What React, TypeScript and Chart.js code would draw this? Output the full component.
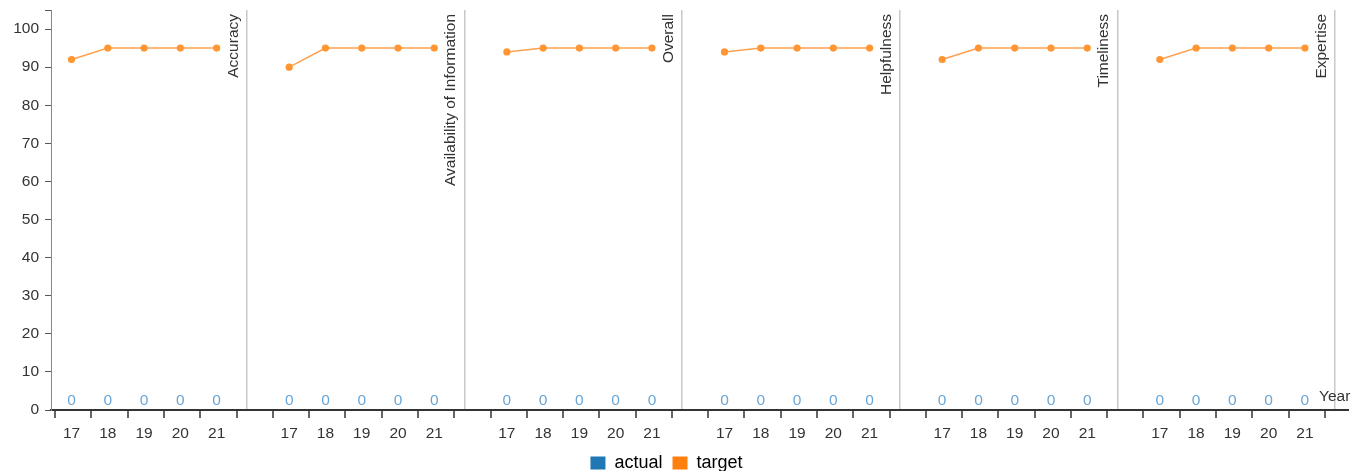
import React, { useEffect, useRef } from 'react';
import { Chart, registerables } from 'chart.js';

Chart.register(...registerables);

// ---------- data ----------
const panelNames = [
  'Accuracy',
  'Availability of Information',
  'Overall',
  'Helpfulness',
  'Timeliness',
  'Expertise',
];
const years = ['17', '18', '19', '20', '21'];

const targetAccuracy = [92, 95, 95, 95, 95];
const targetAvailability = [90, 95, 95, 95, 95];
const targetOverall = [94, 95, 95, 95, 95];
const targetHelpfulness = [94, 95, 95, 95, 95];
const targetTimeliness = [92, 95, 95, 95, 95];
const targetExpertise = [92, 95, 95, 95, 95];

const actualAccuracy = [0, 0, 0, 0, 0];
const actualAvailability = [0, 0, 0, 0, 0];
const actualOverall = [0, 0, 0, 0, 0];
const actualHelpfulness = [0, 0, 0, 0, 0];
const actualTimeliness = [0, 0, 0, 0, 0];
const actualExpertise = [0, 0, 0, 0, 0];

const yTickValues = [0, 10, 20, 30, 40, 50, 60, 70, 80, 90, 100];
const yTop = 105;

const seriesNames = ['actual', 'target'];
const seriesColors = ['#1f77b4', '#ff7f0e'];

const targetByPanel = [
  targetAccuracy,
  targetAvailability,
  targetOverall,
  targetHelpfulness,
  targetTimeliness,
  targetExpertise,
];
const actualByPanel = [
  actualAccuracy,
  actualAvailability,
  actualOverall,
  actualHelpfulness,
  actualTimeliness,
  actualExpertise,
];

// ---------- layout constants ----------
const W = 1353;
const H = 482;
const SLOTS = 6; // band units per facet panel
const TICK_OFF = 0.72;
const POINT_OFF = 1.17;
const X_MIN = 0.604;
const X_MAX = 36.385;
const FONT = '"Liberation Sans", Arial, Helvetica, sans-serif';
const FS = 15.5;

type TickInfo = { value: number; kind: 'edge' | 'center' | 'sep'; label: string };

function buildTicks(): TickInfo[] {
  const out: TickInfo[] = [];
  panelNames.forEach((_, p) => {
    const base = p * SLOTS;
    for (let k = 0; k <= years.length; k++) {
      out.push({ value: base + TICK_OFF + k, kind: 'edge', label: '' });
    }
    years.forEach((y, i) => {
      out.push({ value: base + POINT_OFF + i, kind: 'center', label: y });
    });
    out.push({ value: base + SLOTS, kind: 'sep', label: '' });
  });
  return out.sort((a, b) => a.value - b.value);
}

const xTicks = buildTicks();

function buildTargetData() {
  const pts: { x: number; y: number | null }[] = [];
  targetByPanel.forEach((vals, p) => {
    vals.forEach((v, i) => pts.push({ x: p * SLOTS + POINT_OFF + i, y: v }));
    pts.push({ x: p * SLOTS + SLOTS, y: null });
  });
  return pts;
}

function buildActualData() {
  const pts: { x: number; y: number }[] = [];
  actualByPanel.forEach((vals, p) => {
    vals.forEach((v, i) => pts.push({ x: p * SLOTS + POINT_OFF + i, y: v }));
  });
  return pts;
}

const overlayPlugin = {
  id: 'overlay',
  afterLayout(chart: any) {
    const lg = chart.legend;
    if (lg) {
      lg.left -= 10;
      lg.right -= 10;
    }
  },
  afterDatasetsDraw(chart: any) {
    const { ctx, chartArea, scales } = chart;
    const xs = scales.x;
    ctx.save();
    // value labels of the actual series
    const meta = chart.getDatasetMeta(0);
    const actualData = chart.data.datasets[0].data as { x: number; y: number }[];
    ctx.font = `${FS}px ${FONT}`;
    ctx.fillStyle = '#6aa6d8';
    ctx.textAlign = 'center';
    ctx.textBaseline = 'middle';
    meta.data.forEach((pt: any, i: number) => {
      ctx.fillText(String(actualData[i].y), pt.x, pt.y - 9);
    });
    // facet labels
    ctx.font = `${FS}px ${FONT}`;
    ctx.fillStyle = '#333';
    panelNames.forEach((name, p) => {
      const sx = xs.getPixelForValue(p * SLOTS + SLOTS);
      ctx.save();
      ctx.translate(sx - 9, chartArea.top + 4);
      ctx.rotate(-Math.PI / 2);
      ctx.textAlign = 'right';
      ctx.textBaseline = 'alphabetic';
      ctx.fillText(name, 0, 0);
      ctx.restore();
    });
    // x axis title
    ctx.font = `${FS}px ${FONT}`;
    ctx.fillStyle = '#333';
    ctx.textAlign = 'left';
    ctx.textBaseline = 'middle';
    ctx.fillText('Year', chartArea.right - 30, chartArea.bottom - 13);
    ctx.restore();
  },
};

export default function App() {
  const ref = useRef<HTMLCanvasElement | null>(null);

  useEffect(() => {
    if (!ref.current) return;
    Chart.defaults.font.family = FONT;
    const chart = new Chart(ref.current, {
      type: 'line',
      data: {
        datasets: [
          {
            label: seriesNames[0],
            data: buildActualData(),
            showLine: false,
            pointRadius: 0,
            borderColor: seriesColors[0],
            backgroundColor: seriesColors[0],
          },
          {
            label: seriesNames[1],
            data: buildTargetData(),
            spanGaps: false,
            borderColor: '#ffa04f',
            backgroundColor: '#ff9633',
            borderWidth: 1.5,
            pointRadius: 3.6,
            pointBorderWidth: 0,
            pointBackgroundColor: '#ff9633',
          },
        ],
      },
      options: {
        animation: false,
        responsive: false,
        events: [],
        layout: { padding: { top: 10, left: 0, right: 0, bottom: 0 } },
        plugins: {
          tooltip: { enabled: false },
          legend: {
            display: true,
            position: 'bottom',
            labels: {
              boxWidth: 15,
              boxHeight: 13,
              padding: 10,
              color: '#222',
              font: { size: 18, family: FONT },
              generateLabels: () =>
                seriesNames.map((n, i) => ({
                  text: n,
                  fillStyle: seriesColors[i],
                  strokeStyle: seriesColors[i],
                  lineWidth: 0,
                  hidden: false,
                  datasetIndex: i,
                })),
            },
          },
        },
        scales: {
          x: {
            type: 'linear',
            min: X_MIN,
            max: X_MAX,
            afterBuildTicks: (scale: any) => {
              scale.ticks = xTicks.map((t) => ({ value: t.value }));
            },
            afterFit: (scale: any) => {
              scale.height = 34;
              scale.paddingLeft = 0;
              scale.paddingRight = 0;
            },
            ticks: {
              autoSkip: false,
              maxRotation: 0,
              minRotation: 0,
              padding: 6,
              color: '#333',
              font: { size: FS },
              callback: (_v: any, i: number) => (xTicks[i] ? xTicks[i].label : ''),
            },
            grid: {
              drawOnChartArea: true,
              drawTicks: true,
              tickLength: 8,
              color: (c: any) => (xTicks[c.index] && xTicks[c.index].kind === 'sep' ? '#c8c8c8' : 'rgba(0,0,0,0)'),
              lineWidth: (c: any) => (xTicks[c.index] && xTicks[c.index].kind === 'sep' ? 1.5 : 0),
              tickColor: (c: any) => (xTicks[c.index] && xTicks[c.index].kind === 'edge' ? '#333' : 'rgba(0,0,0,0)'),
              tickWidth: 1.5,
            },
            border: { display: true, color: '#333', width: 2 },
          },
          y: {
            type: 'linear',
            min: 0,
            max: yTop,
            afterBuildTicks: (scale: any) => {
              scale.ticks = [...yTickValues, yTop].map((v) => ({ value: v }));
            },
            afterFit: (scale: any) => {
              scale.width = 51;
              scale.paddingTop = 0;
              scale.paddingBottom = 0;
            },
            ticks: {
              padding: 6,
              color: '#333',
              font: { size: FS },
              callback: (v: any) => (yTickValues.includes(Number(v)) ? String(v) : ''),
            },
            grid: {
              drawOnChartArea: false,
              drawTicks: true,
              tickLength: 6,
              tickColor: '#555',
              tickWidth: 1,
            },
            border: { display: true, color: '#888', width: 1 },
          },
        },
      },
      plugins: [overlayPlugin],
    });
    return () => chart.destroy();
  }, []);

  return (
    <div style={{ position: 'fixed', left: 0, top: 0, width: W, height: H }}>
      <canvas ref={ref} width={W} height={H} style={{ width: W, height: H, display: 'block' }} />
    </div>
  );
}
